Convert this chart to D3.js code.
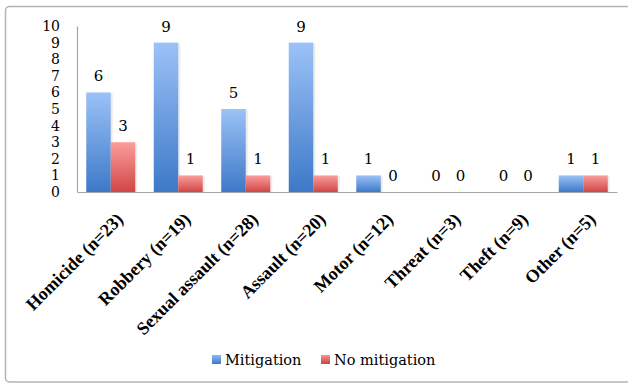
<!DOCTYPE html>
<html><head><meta charset="utf-8">
<script src="https://cdnjs.cloudflare.com/ajax/libs/d3/7.8.5/d3.min.js"></script>
<style>
html,body{margin:0;padding:0;background:#fff;}
svg text{font-family:"DejaVu Serif","Liberation Serif",serif;fill:#000;}
svg text.cat{font-family:"Liberation Serif",serif;font-weight:bold;}
</style></head>
<body>
<svg id="chart" width="628" height="385"></svg>
<script>
const categories = ["Homicide (n=23)","Robbery (n=19)","Sexual assault (n=28)","Assault (n=20)","Motor (n=12)","Threat (n=3)","Theft (n=9)","Other (n=5)"];
const seriesNames = ["Mitigation","No mitigation"];
const mitigation = [6,9,5,9,1,0,0,1];
const noMitigation = [3,1,1,1,0,0,0,1];
const yTicks = [0,1,2,3,4,5,6,7,8,9,10];

const svg = d3.select("#chart");
const defs = svg.append("defs");
const grads = [
  {id:"gBlue", top:"#9cc2f7", bot:"#3d79c8"},
  {id:"gRed", top:"#fa9e9d", bot:"#d04645"},
  {id:"lBlue", top:"#8db8f2", bot:"#3d79c8"},
  {id:"lRed", top:"#f49493", bot:"#cc4443"}
];
grads.forEach(g=>{
  const lg = defs.append("linearGradient").attr("id",g.id).attr("x1",0).attr("y1",0).attr("x2",0).attr("y2",1);
  lg.append("stop").attr("offset","0%").attr("stop-color",g.top);
  lg.append("stop").attr("offset","100%").attr("stop-color",g.bot);
});

// outer frame
svg.append("rect").attr("x",5.5).attr("y",6.5).attr("width",640).attr("height",375.5)
  .attr("rx",4).attr("fill","#fff").attr("stroke","#b4b4b4").attr("stroke-width",1.5);

const x0 = d3.scaleBand().domain(categories).range([77,617]).paddingInner(0.274).paddingOuter(0.137);
const x1 = d3.scaleBand().domain(seriesNames).range([0,x0.bandwidth()]);
const y = d3.scaleLinear().domain([0,10]).range([192,26]);

const data = categories.map((c,i)=>({cat:c, vals:[mitigation[i], noMitigation[i]]}));
const fills = ["url(#gBlue)","url(#gRed)"];

const groups = svg.append("g").selectAll("g").data(data).join("g")
  .attr("transform",d=>`translate(${x0(d.cat)},0)`);

// shadows
groups.selectAll("rect.sh").data(d=>d.vals.map((v,i)=>({v,i}))).join("rect")
  .attr("class","sh")
  .attr("x",d=>x1(seriesNames[d.i])+2).attr("width",x1.bandwidth())
  .attr("y",d=>y(d.v)+1).attr("height",d=>Math.max(0,y(0)-y(d.v)-1))
  .attr("fill","#000").attr("opacity",d=>d.v>0?0.08:0);

groups.selectAll("rect.bar").data(d=>d.vals.map((v,i)=>({v,i}))).join("rect")
  .attr("class","bar")
  .attr("x",d=>x1(seriesNames[d.i])).attr("width",x1.bandwidth())
  .attr("y",d=>y(d.v)).attr("height",d=>y(0)-y(d.v))
  .attr("fill",d=>fills[d.i]);

groups.selectAll("text.val").data(d=>d.vals.map((v,i)=>({v,i}))).join("text")
  .attr("class","val")
  .attr("x",d=>x1(seriesNames[d.i])+x1.bandwidth()/2)
  .attr("y",d=>y(d.v)-11)
  .attr("text-anchor","middle").attr("font-size","15px")
  .text(d=>d.v);

// y axis
const yAxis = d3.axisLeft(y).tickValues(yTicks).tickSize(0).tickPadding(17);
const ya = svg.append("g").attr("transform","translate(77,0)").call(yAxis);
ya.select(".domain").attr("stroke","#a6a6a6").attr("stroke-width",1.2);
ya.selectAll("text").attr("font-size","14px").attr("font-family",null).attr("fill","#000");

// x axis
const xAxis = d3.axisBottom(x0).tickSize(0).tickFormat(d=>d);
const xa = svg.append("g").attr("transform","translate(0,192)").call(xAxis);
xa.select(".domain").attr("stroke","#a6a6a6").attr("stroke-width",1.2);
xa.selectAll(".tick text")
  .attr("class","cat")
  .attr("font-size","18px").attr("font-family",null).attr("fill","#000")
  .attr("text-anchor","end")
  .attr("transform","translate(9,24) rotate(-45)")
  .attr("x",0).attr("y",0).attr("dy","0.35em");

// legend
const legend = svg.append("g");
const legX = [212, 321];
seriesNames.forEach((s,i)=>{
  legend.append("rect").attr("x",legX[i]).attr("y",355).attr("width",9).attr("height",9)
    .attr("fill",i===0?"url(#lBlue)":"url(#lRed)");
  legend.append("text").attr("x",legX[i]+13).attr("y",360).attr("dy","0.35em")
    .attr("font-size","14.5px").text(s);
});
</script>
</body></html>
